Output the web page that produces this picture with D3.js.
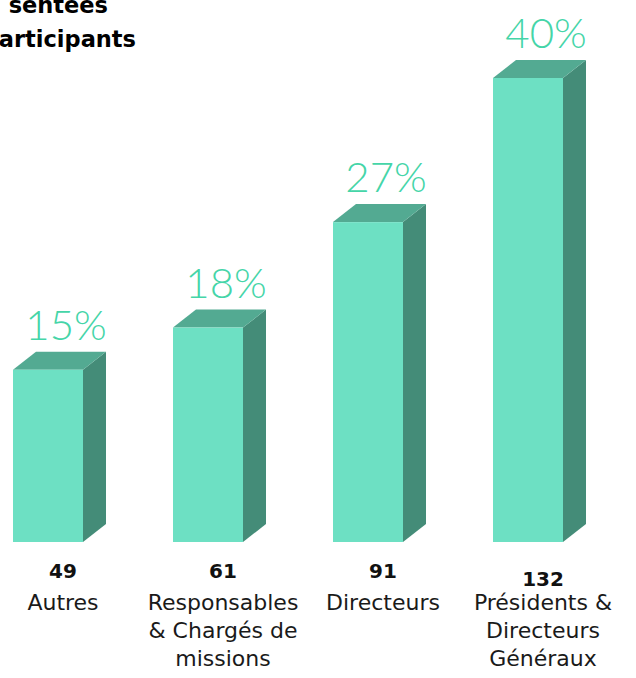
<!DOCTYPE html>
<html>
<head>
<meta charset="utf-8">
<script src="https://cdn.jsdelivr.net/npm/d3@7"></script>
<style>
  html, body { margin: 0; padding: 0; background: #fff; }
  svg { display: block; }
</style>
</head>
<body>
<div id="chart"></div>
<script>
// data
const categories = ["Autres", "Responsables & Chargés de missions", "Directeurs", "Présidents & Directeurs Généraux"];
const categoryLines = [
    ["Autres"],
    ["Responsables", "& Chargés de", "missions"],
    ["Directeurs"],
    ["Présidents &", "Directeurs", "Généraux"]
];
const counts = [49, 61, 91, 132];
const percentLabels = ["15%", "18%", "27%", "40%"];
const titleLines = ["sentées", "articipants"];

const width = 636, height = 678;
const depth = {dx: 23, dy: 18};
const colors = {front: "#6de0c3", top: "#53aa92", side: "#448c78", pct: "#45d5a8"};

const svg = d3.select("#chart").append("svg")
    .attr("width", width)
    .attr("height", height);

// front faces: 70px wide, 160px apart
const xScale = d3.scaleBand()
    .domain(categories)
    .range([13, 563])
    .paddingInner(0.5625)
    .paddingOuter(0);

const yScale = d3.scaleLinear()
    .domain([0, 132])
    .range([542, 78]);

const data = categories.map((c, i) => ({
    cat: c, lines: categoryLines[i], count: counts[i], pct: percentLabels[i], index: i
}));

const bw = xScale.bandwidth();

const barG = svg.selectAll(".barG")
    .data(data)
    .join("g")
    .attr("class", "barG");

// side face
barG.append("path")
    .attr("fill", colors.side)
    .attr("d", d => {
        const x1 = xScale(d.cat) + bw, y0 = yScale(d.count), y1 = yScale(0);
        return "M" + x1 + "," + y0 + " L" + (x1 + depth.dx) + "," + (y0 - depth.dy) +
            " L" + (x1 + depth.dx) + "," + (y1 - depth.dy) + " L" + x1 + "," + y1 + "Z";
    });

// top face
barG.append("path")
    .attr("fill", colors.top)
    .attr("d", d => {
        const x0 = xScale(d.cat), x1 = x0 + bw, y0 = yScale(d.count);
        return "M" + x0 + "," + y0 + " L" + (x0 + depth.dx) + "," + (y0 - depth.dy) +
            " L" + (x1 + depth.dx) + "," + (y0 - depth.dy) + " L" + x1 + "," + y0 + "Z";
    });

// front face
barG.append("rect")
    .attr("fill", colors.front)
    .attr("x", d => xScale(d.cat))
    .attr("y", d => yScale(d.count))
    .attr("width", bw)
    .attr("height", d => yScale(0) - yScale(d.count));

const labelX = d => xScale(d.cat) + bw / 2 + 15;

// percentage labels above the bars
barG.append("text")
    .attr("x", d => labelX(d) + 3)
    .attr("y", d => yScale(d.count) - depth.dy - 12)
    .attr("text-anchor", "middle")
    .attr("font-family", "Lato, 'DejaVu Sans', sans-serif")
    .attr("font-weight", "300")
    .attr("font-size", "42px")
    .attr("fill", colors.pct)
    .text(d => d.pct);

// count under the bar (last one sits a bit lower in the original)
barG.append("text")
    .attr("x", labelX)
    .attr("y", d => d.index === 3 ? 586 : 578)
    .attr("text-anchor", "middle")
    .attr("font-family", "'DejaVu Sans', sans-serif")
    .attr("font-weight", "bold")
    .attr("font-size", "20px")
    .attr("fill", "#111")
    .text(d => d.count);

// category name, one tspan per line
barG.append("text")
    .attr("text-anchor", "middle")
    .attr("font-family", "'DejaVu Sans', sans-serif")
    .attr("font-size", "22px")
    .attr("fill", "#1a1a1a")
    .selectAll("tspan")
    .data(d => d.lines.map(l => ({line: l, x: labelX(d)})))
    .join("tspan")
    .attr("x", t => t.x)
    .attr("y", (t, j) => 610 + j * 28)
    .text(t => t.line);

// title, cropped on the left and top in the original
svg.append("g")
    .selectAll("text")
    .data(titleLines)
    .join("text")
    .attr("x", (t, i) => i === 0 ? 108 : 136)
    .attr("y", (t, i) => 13 + i * 34)
    .attr("text-anchor", "end")
    .attr("font-family", "'DejaVu Sans', sans-serif")
    .attr("font-weight", "bold")
    .attr("font-size", "22.5px")
    .attr("fill", "#000")
    .text(t => t);
</script>
</body>
</html>
